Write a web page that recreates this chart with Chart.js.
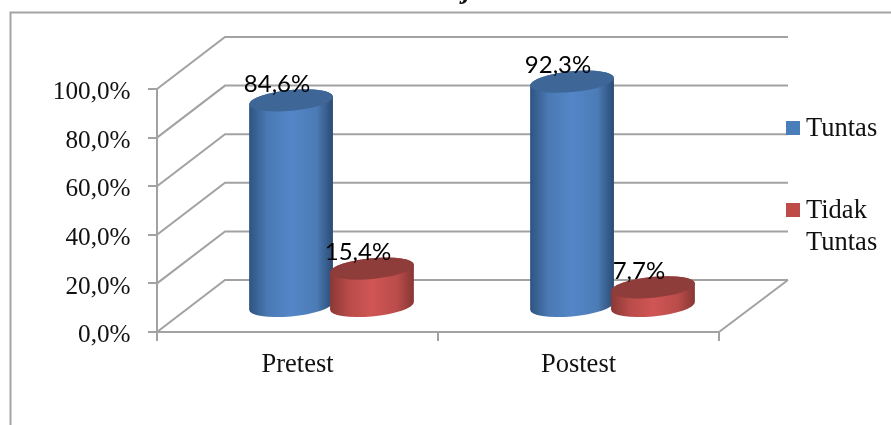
<!DOCTYPE html>
<html>
<head>
<meta charset="utf-8">
<style>
  html, body { margin: 0; padding: 0; background: #fff; overflow: hidden; }
  canvas { display: block; }
</style>
<script src="https://cdn.jsdelivr.net/npm/chart.js@4"></script>
</head>
<body>
<canvas id="chart" width="891" height="425"></canvas>
<script>
const categories = ['Pretest', 'Postest'];
const tuntas = [84.6, 92.3];
const tidakTuntas = [15.4, 7.7];
const yTicks = [0, 20, 40, 60, 80, 100];

const percentLabel = v => v.toFixed(1).replace('.', ',') + '%';

// Oblique projection of the box that holds the bars
const DEPTH = { x: 68, y: -52 };
const GRID = '#a2a2a2';
const SERIF = '"Liberation Serif", "Times New Roman", serif';
const CAP = { ry: 10.4, tilt: -5.5 * Math.PI / 180 };

const palettes = [
  { stops: ['#2e5480', '#4a79b4', '#5486c8', '#4c7cb6', '#2b4a72'], cap: '#3e6798', swatch: '#4a7ebb' },
  { stops: ['#8a3836', '#b84b49', '#d05654', '#b94c4a', '#873634'], cap: '#8f3d3a', swatch: '#be4b48' }
];

// Back wall, side wall and floor of the 3D box
const wallPlugin = {
  id: 'wall',
  beforeDraw(chart) {
    const { ctx, width, height } = chart;
    ctx.save();
    ctx.fillStyle = '#fff';
    ctx.fillRect(0, 0, width, height);
    ctx.strokeStyle = '#a4a4a4';
    ctx.lineWidth = 2;
    ctx.beginPath();
    ctx.moveTo(10.5, height + 2);
    ctx.lineTo(10.5, 12.5);
    ctx.lineTo(width + 2, 12.5);
    ctx.stroke();
    // tail of the heading above the frame
    ctx.fillStyle = '#111';
    ctx.font = 'italic bold 28px ' + SERIF;
    ctx.textAlign = 'center';
    ctx.textBaseline = 'alphabetic';
    ctx.fillText('j', 467, -2);
    ctx.restore();
  },
  beforeDatasetsDraw(chart) {
    const { ctx, chartArea: a, scales: { y } } = chart;
    ctx.save();
    ctx.strokeStyle = GRID;
    ctx.lineWidth = 2;
    ctx.beginPath();
    y.ticks.forEach(t => {
      const py = y.getPixelForValue(t.value);
      ctx.moveTo(a.left, py);
      ctx.lineTo(a.left + DEPTH.x, py + DEPTH.y);
      ctx.lineTo(a.right + DEPTH.x + 1, py + DEPTH.y);
    });
    const floor = y.getPixelForValue(0);
    ctx.moveTo(a.right, floor);
    ctx.lineTo(a.right + DEPTH.x + 1, floor + DEPTH.y);
    ctx.stroke();
    // value axis labels, set slightly below the em-box middle
    ctx.fillStyle = '#111';
    ctx.font = '25.2px ' + SERIF;
    ctx.textAlign = 'right';
    ctx.textBaseline = 'middle';
    y.ticks.forEach(t => {
      ctx.fillText(percentLabel(t.value), 130.5, y.getPixelForValue(t.value) + 3.5);
    });
    ctx.restore();
  }
};

// Bars are painted as cylinders standing in the middle of the box depth
const cylinderPlugin = {
  id: 'cylinders',
  beforeDatasetDraw() { return false; },
  afterDatasetsDraw(chart) {
    const { ctx, scales: { y } } = chart;
    const dx = DEPTH.x / 2, dy = DEPTH.y / 2;
    const cosT = Math.cos(CAP.tilt), sinT = Math.sin(CAP.tilt);
    chart.data.datasets.forEach((ds, di) => {
      const meta = chart.getDatasetMeta(di);
      const pal = palettes[di];
      meta.data.forEach((bar, i) => {
        const cx = bar.x + dx;
        const rx = bar.width / 2;
        const top = y.getPixelForValue(ds.data[i]) + dy;
        const base = y.getPixelForValue(0) + dy;
        const t0 = Math.atan2(-CAP.ry * sinT, rx * cosT);
        const body = ctx.createLinearGradient(cx - rx, 0, cx + rx, 0);
        pal.stops.forEach((c, k) => body.addColorStop([0, 0.22, 0.5, 0.8, 1][k], c));
        ctx.save();
        ctx.fillStyle = body;
        ctx.beginPath();
        ctx.ellipse(cx, base, rx, CAP.ry, CAP.tilt, t0, t0 + Math.PI);
        ctx.ellipse(cx, top, rx, CAP.ry, CAP.tilt, t0 + Math.PI, t0 + 2 * Math.PI);
        ctx.closePath();
        ctx.fill();
        ctx.fillStyle = pal.cap;
        ctx.beginPath();
        ctx.ellipse(cx, top, rx, CAP.ry, CAP.tilt, 0, 2 * Math.PI);
        ctx.fill();
        ctx.restore();
      });
    });
    // value labels sit over every cylinder
    ctx.save();
    ctx.fillStyle = '#000';
    ctx.font = '24px Lato, "Open Sans", sans-serif';
    ctx.textAlign = 'center';
    ctx.textBaseline = 'middle';
    chart.data.datasets.forEach((ds, di) => {
      chart.getDatasetMeta(di).data.forEach((bar, i) => {
        const py = y.getPixelForValue(ds.data[i]) + dy;
        ctx.fillText(percentLabel(ds.data[i]), bar.x + dx - 14, py - 16);
      });
    });
    ctx.restore();
  }
};

// Legend on the right; long series names wrap onto a second line
const legendPlugin = {
  id: 'sideLegend',
  afterDraw(chart) {
    const { ctx } = chart;
    const rows = [128, 210];
    const textRows = [129, 211];
    ctx.save();
    ctx.font = '26.5px ' + SERIF;
    ctx.textBaseline = 'middle';
    ctx.textAlign = 'left';
    chart.data.datasets.forEach((ds, di) => {
      ctx.fillStyle = palettes[di].swatch;
      ctx.fillRect(786, rows[di] - 7, 14, 14);
      ctx.fillStyle = '#111';
      ds.label.split(' ').forEach((word, k) => {
        ctx.fillText(word, 806, textRows[di] + k * 32);
      });
    });
    ctx.restore();
  }
};

new Chart(document.getElementById('chart'), {
  type: 'bar',
  data: {
    labels: categories,
    datasets: [
      { label: 'Tuntas', data: tuntas, backgroundColor: palettes[0].swatch },
      { label: 'Tidak Tuntas', data: tidakTuntas, backgroundColor: palettes[1].swatch }
    ]
  },
  options: {
    responsive: false,
    animation: false,
    categoryPercentage: 0.576,
    barPercentage: 1.04,
    layout: { padding: { left: 0, top: 89, right: 172, bottom: 43 } },
    plugins: {
      legend: { display: false },
      title: { display: false },
      tooltip: { enabled: false }
    },
    scales: {
      x: {
        afterFit(scale) { scale.height = 50; },
        grid: { drawOnChartArea: false, drawTicks: true, tickLength: 9, color: GRID, lineWidth: 2, offset: true },
        border: { display: true, color: GRID, width: 2 },
        ticks: { color: '#111', font: { family: SERIF, size: 26.5 }, padding: 8, maxRotation: 0 }
      },
      y: {
        min: 0,
        max: 100,
        afterFit(scale) { scale.width = 157; },
        afterBuildTicks(scale) { scale.ticks = yTicks.map(value => ({ value })); },
        grid: { drawOnChartArea: false, drawTicks: true, tickLength: 9, color: GRID, lineWidth: 2 },
        border: { display: true, color: GRID, width: 2 },
        ticks: { display: false }
      }
    }
  },
  plugins: [wallPlugin, cylinderPlugin, legendPlugin]
});
</script>
</body>
</html>
